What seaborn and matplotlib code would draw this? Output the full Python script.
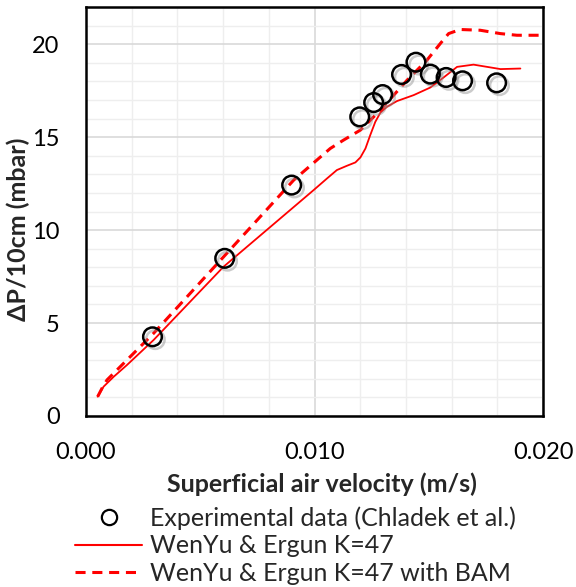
import matplotlib
matplotlib.use("Agg")
import matplotlib.pyplot as plt
import matplotlib.patheffects as pe
from matplotlib.lines import Line2D
from matplotlib.ticker import MultipleLocator
import pandas as pd
import seaborn as sns

# experimental points (Chladek et al.)
exp_v = [0.00291, 0.00607, 0.0090, 0.01198, 0.01259, 0.01298, 0.01381,
         0.01444, 0.01507, 0.01576, 0.01648, 0.01797]
exp_dp = [4.26, 8.48, 12.42, 16.09, 16.86, 17.29, 18.37, 19.03, 18.39,
          18.21, 18.03, 17.92]

# WenYu & Ergun K=47
model_v = [0.00051, 0.00077, 0.00121, 0.00179, 0.00296, 0.00602, 0.00996,
           0.01055, 0.01098, 0.01142, 0.01179, 0.01201, 0.01223, 0.01244,
           0.01266, 0.01288, 0.01317, 0.01361, 0.01434, 0.01507, 0.01565,
           0.01624, 0.01696, 0.01755, 0.01814, 0.01901]
model_dp = [1.04, 1.58, 2.11, 2.74, 4.09, 8.03, 12.15, 12.78, 13.23, 13.46,
            13.64, 13.91, 14.39, 15.11, 15.82, 16.31, 16.63, 16.94, 17.26,
            17.67, 18.21, 18.78, 18.90, 18.78, 18.66, 18.69]

# WenYu & Ergun K=47 with BAM
bam_v = [0.00051, 0.0007, 0.00092, 0.00296, 0.00602, 0.00909, 0.01069,
         0.01127, 0.01201, 0.01288, 0.01405, 0.01492, 0.01551, 0.01587,
         0.01638, 0.01725, 0.01813, 0.01886, 0.0200]
bam_dp = [1.04, 1.49, 1.94, 4.45, 8.56, 12.69, 14.39, 14.84, 15.38, 16.45,
          18.06, 19.14, 20.04, 20.57, 20.79, 20.75, 20.57, 20.48, 20.48]

sns.set_theme(style="white")
plt.rcParams["font.family"] = ["Lato", "DejaVu Sans"]

fig = plt.figure(figsize=(5.76, 5.87), dpi=100)
ax = fig.add_axes([86 / 576, 1 - 416 / 587, 457 / 576, 409 / 587])

model = pd.DataFrame({"v": model_v, "dp": model_dp})
bam = pd.DataFrame({"v": bam_v, "dp": bam_dp})
exp = pd.DataFrame({"v": exp_v, "dp": exp_dp})

sns.lineplot(data=model, x="v", y="dp", sort=False, estimator=None,
             color="#ff0000", lw=1.3, ax=ax, zorder=3)
sns.lineplot(data=bam, x="v", y="dp", sort=False, estimator=None,
             color="#ff0000", lw=2.2, ax=ax, zorder=3)
ax.lines[-1].set_dashes([3.3, 2.2])
sns.scatterplot(data=exp, x="v", y="dp", s=180, facecolor="none",
                edgecolor="black", linewidth=1.8, ax=ax, zorder=4)
ax.collections[-1].set_path_effects(
    [pe.SimpleLineShadow(offset=(2, -2), shadow_color="0.55", alpha=0.45),
     pe.Normal()])

ax.set_xlim(0, 0.020)
ax.set_ylim(0, 22)
ax.xaxis.set_major_locator(MultipleLocator(0.010))
ax.xaxis.set_minor_locator(MultipleLocator(0.002))
ax.yaxis.set_major_locator(MultipleLocator(5))
ax.yaxis.set_minor_locator(MultipleLocator(1))
ax.set_xticks([0, 0.010, 0.020], ["0.000", "0.010", "0.020"])
ax.grid(which="major", color="#d9d9d9", lw=1.2)
ax.grid(which="minor", color="#eeeeee", lw=1.0)
ax.set_axisbelow(True)
ax.tick_params(which="both", length=0, labelsize=17, colors="black")
ax.tick_params(axis="x", pad=19)
ax.tick_params(axis="y", pad=19)
for s in ax.spines.values():
    s.set_color("black")
    s.set_linewidth(1.8)

ax.set_xlabel("Superficial air velocity (m/s)", fontsize=18,
              fontweight="bold", va="top")
ax.xaxis.set_label_coords(0.517, -0.137)
ax.set_ylabel("ΔP/10cm (mbar)", fontsize=18, fontweight="bold")
ax.yaxis.set_label_coords(-0.122, 0.457)

handles = [
    Line2D([], [], marker="o", ls="none", mfc="none", mec="black",
           mew=1.6, ms=11),
    Line2D([], [], color="#ff0000", lw=1.5),
    Line2D([], [], color="#ff0000", lw=2.2, dashes=[3.3, 2.2]),
]
labels = ["Experimental data (Chladek et al.)", "WenYu & Ergun K=47",
          "WenYu & Ergun K=47 with BAM"]
fig.legend(handles, labels, loc="upper left", bbox_to_anchor=(0.13, 0.137),
           frameon=False, fontsize=18, handlelength=2.7, handletextpad=0.32,
           labelspacing=0.17, borderpad=0, borderaxespad=0)

fig.savefig("out.png", dpi=100)
